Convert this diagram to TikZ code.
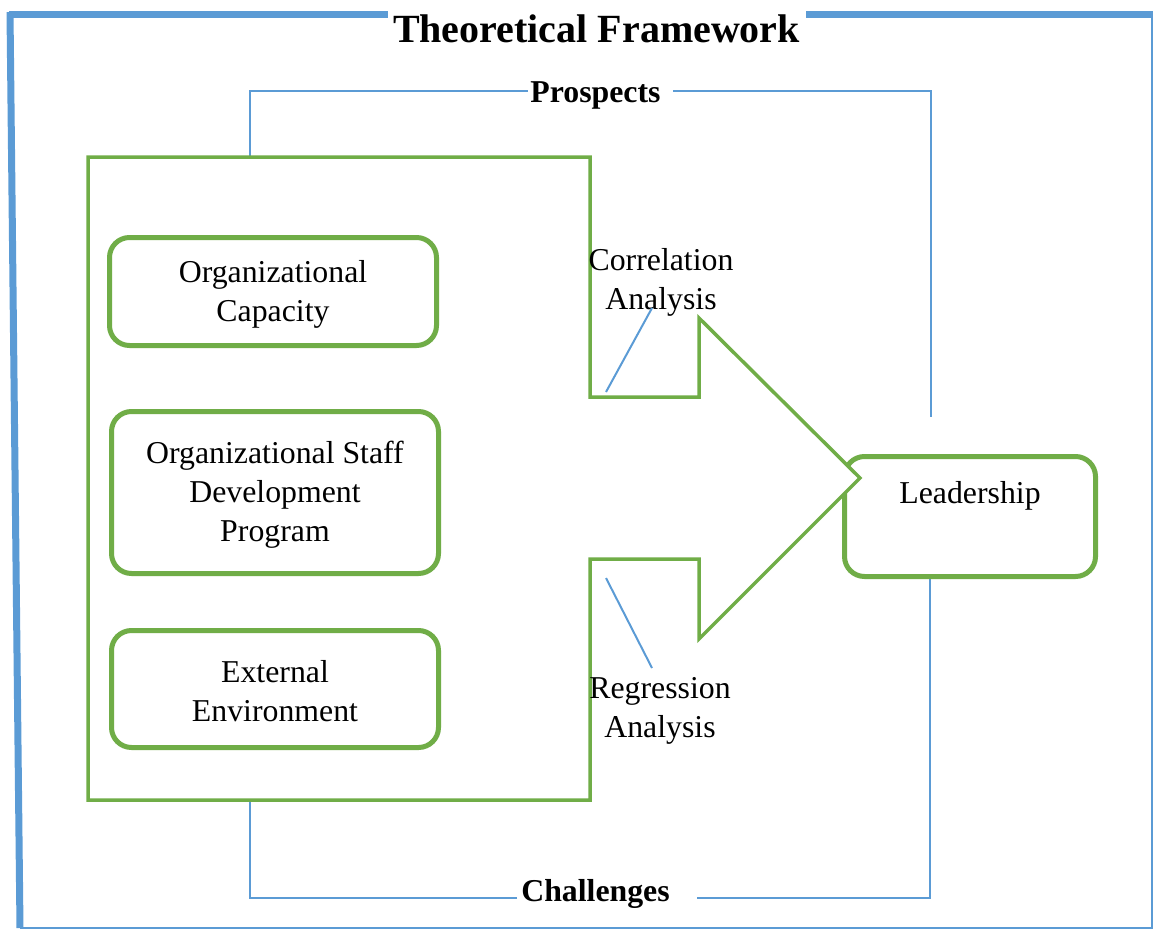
\documentclass[tikz,border=0pt]{standalone}
\usepackage{fontspec}
\setmainfont{Liberation Serif}
\definecolor{fblue}{HTML}{5B9BD5}
\definecolor{fgreen}{HTML}{70AD47}
\begin{document}
\begin{tikzpicture}[x=1pt,y=-1pt,
  txt/.style={font=\fontsize{31.8}{39}\selectfont, align=center, inner sep=0pt},
  headtxt/.style={font=\fontsize{31.8}{39}\selectfont\bfseries, inner sep=0pt},
  titletxt/.style={font=\fontsize{40}{48}\selectfont\bfseries, inner sep=0pt},
  gbox/.style={draw=fgreen, line width=5pt, rounded corners=20pt, fill=white},
  bigarrow/.style={draw=fgreen, line width=3.5pt, fill=white, line join=miter},
  frame/.style={draw=fblue, line width=7pt},
  thinframe/.style={draw=fblue, line width=2pt},
  link/.style={draw=fblue, line width=1.5pt},
  pointer/.style={draw=fblue, line width=2pt}]
\useasboundingbox (0,0) rectangle (1153,929);

% outer frame
\draw[frame] (9,14.5) -- (388,14.5);
\draw[frame] (806,14.5) -- (1153,14.5);
\draw[frame] (10,12) -- (20,928);
\draw[thinframe] (20,927.5) -- (1152,927.5) -- (1152,18);
\node[titletxt, anchor=base] (title) at (596.5,42) {Theoretical Framework};

% prospects / challenges loops
\coordinate (ptop) at (250,157);
\coordinate (pgapL) at (528,91);
\coordinate (pgapR) at (673,91);
\coordinate (pend) at (931,417);
\coordinate (cstart) at (930,579);
\coordinate (cgapR) at (697,898);
\coordinate (cgapL) at (517,898);
\coordinate (cbot) at (250,800);
\draw[link] (ptop) -- (250,91) -- (pgapL);
\draw[link] (pgapR) -- (931,91) -- (pend);
\draw[link] (cstart) -- (930,898) -- (cgapR);
\draw[link] (cgapL) -- (250,898) -- (cbot);
\node[headtxt, anchor=base] (prosp) at (595.5,102) {Prospects};
\node[headtxt, anchor=base] (chall) at (595.5,901) {Challenges};

% outcome box
\node[gbox, minimum width=251pt, minimum height=120pt] (lead) at (970,516.5) {};
\node[txt] (leadtxt) at ([yshift=21pt]lead.center) {Leadership};

% large arrow holding the factors
\draw[bigarrow] (88,157) -- (590,157) -- (590,397) -- (699,397) -- (699,318)
  -- (860,478) -- (699,639) -- (699,559) -- (590,559) -- (590,800) -- (88,800) -- cycle;

% factor boxes
\node[gbox, minimum width=327pt, minimum height=108pt] (cap) at (273,291.5) {};
\node[gbox, minimum width=327pt, minimum height=162pt] (staff) at (275,492.5) {};
\node[gbox, minimum width=327pt, minimum height=117pt] (env) at (275,689) {};
\node[txt] (captxt) at ([yshift=-3pt]cap.center) {Organizational\\Capacity};
\node[txt] (stafftxt) at ([yshift=-2pt]staff.center) {Organizational Staff\\Development\\Program};
\node[txt] (envtxt) at ([yshift=-2pt]env.center) {External\\Environment};

% analysis labels and pointers
\node[txt] (corr) at (661,282) {Correlation\\Analysis};
\node[txt] (regr) at (660,711) {Regression\\Analysis};
\coordinate (corrfoot) at (606,392);
\coordinate (corrhead) at (652,308);
\coordinate (regrfoot) at (606,578);
\coordinate (regrhead) at (652,668);
\draw[pointer] (corrfoot) -- (corrhead);
\draw[pointer] (regrfoot) -- (regrhead);
\end{tikzpicture}
\end{document}
